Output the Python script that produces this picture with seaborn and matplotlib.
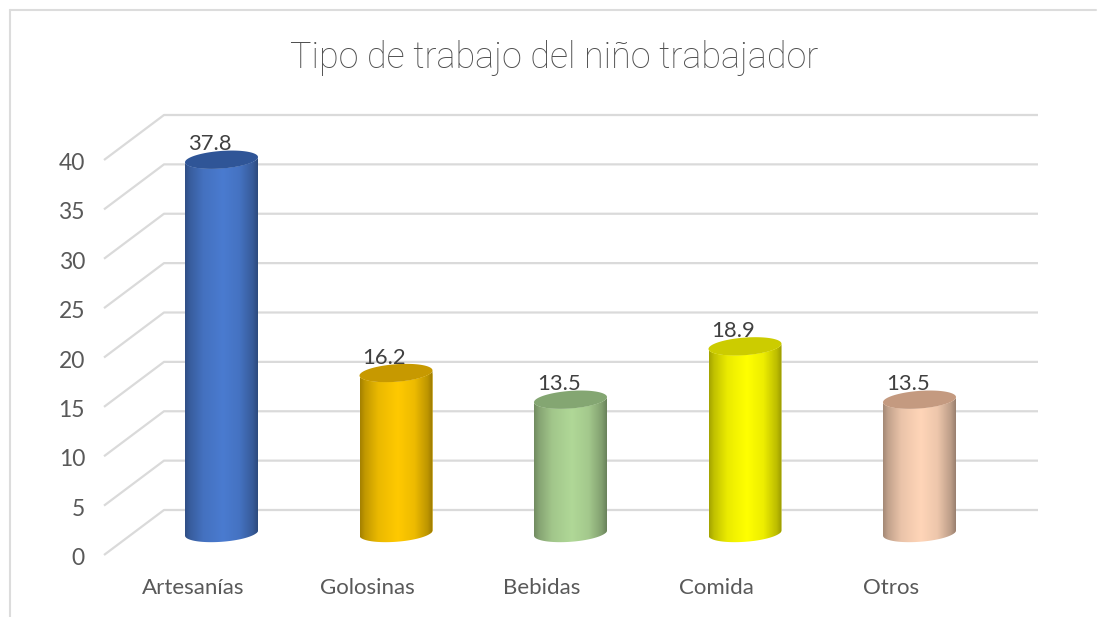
import numpy as np
import matplotlib
matplotlib.use("Agg")
import matplotlib.pyplot as plt
import seaborn as sns
from matplotlib.lines import Line2D
from matplotlib.path import Path
from matplotlib.patches import PathPatch
from matplotlib.transforms import ScaledTranslation
from matplotlib.colors import to_rgb

categories = ["Artesanías", "Golosinas", "Bebidas", "Comida", "Otros"]
values = [37.8, 16.2, 13.5, 18.9, 13.5]
y_ticks = [0, 5, 10, 15, 20, 25, 30, 35, 40]
body_colors = ["#4a7bd0", "#ffc900", "#b0d897", "#ffff00", "#ffd5b8"]
top_colors = ["#2f5597", "#c79900", "#84a672", "#cccc00", "#c49a80"]
title = "Tipo de trabajo del niño trabajador"

W, H, DPI = 1098, 617, 100
sns.set_theme(style="white")
plt.rcParams["font.family"] = ["Lato", "DejaVu Sans"]

fig = plt.figure(figsize=(W / DPI, H / DPI), dpi=DPI, facecolor="white")

# plane of the bars, in pixels
STEP, C0, BASE, UNIT = 174.5, 221.5, 533.0, 9.875
left = C0 - STEP / 2
ax = fig.add_axes([left / W, (H - BASE) / H, 5 * STEP / W, 40 * UNIT / H])
ax.patch.set_alpha(0)


def px_shift(dx, dy):
    return ScaledTranslation(dx / DPI, -dy / DPI, fig.dpi_scale_trans)


sns.barplot(x=categories, y=values, hue=categories, palette=body_colors,
            width=73 / STEP, legend=False, saturation=1, ax=ax, zorder=2)
ax.set_xlim(-0.5, 4.5)
ax.set_ylim(0, 40)
sns.despine(ax=ax, left=True, bottom=True)

# wall and floor grid: back plane and diagonal returning to the front plane
GRID = "#dadada"
px2x = lambda p: (p - C0) / STEP
for t in y_ticks:
    ax.plot([px2x(104), px2x(164), px2x(1038)],
            [t - 22 / UNIT, t + 23 / UNIT, t + 23 / UNIT],
            color=GRID, lw=1.6, clip_on=False, zorder=1, solid_capstyle="butt")

# cylinders
A = 36.5 / STEP
B = 8.8 / UNIT
S = 2.6 / UNIT
th = np.linspace(0, 2 * np.pi, 121)
lower = np.linspace(np.pi, 2 * np.pi, 61)   # from left end, along the front arc, to right end
upper_rev = lower[::-1]
profile_x = [0, 0.07, 0.25, 0.52, 0.75, 0.93, 1]
profile_f = [0.64, 0.76, 0.92, 1.0, 0.93, 0.74, 0.6]
u = np.linspace(0, 1, 200)
shade = np.interp(u, profile_x, profile_f)

for i, (bar, v, bc, tc) in enumerate(zip(ax.patches, values, body_colors, top_colors)):
    cx = bar.get_x() + bar.get_width() / 2
    ell = lambda t, yc: (cx + A * np.cos(t), yc + B * np.sin(t) + S * np.cos(t))
    xb, yb = ell(lower, 0)
    xt, yt = ell(upper_rev, v)
    verts = np.r_[np.c_[xb, yb], np.c_[xt, yt], [[xb[0], yb[0]]]]
    body = Path(verts)
    bar.set_clip_box(fig.bbox)
    bar.set_clip_path(body, ax.transData)
    grad = np.outer(shade, to_rgb(bc))[None, :, :]
    im = ax.imshow(grad, extent=[cx - A, cx + A, -2, v + 2], aspect="auto",
                   zorder=3, interpolation="bilinear")
    im.set_clip_box(fig.bbox)
    im.set_clip_path(body, ax.transData)
    xe, ye = ell(th, v)
    ax.add_patch(PathPatch(Path(np.c_[xe, ye]), facecolor=tc, edgecolor="none",
                           zorder=4, clip_on=False))
    ax.annotate(f"{v:.1f}", (cx, v), xytext=(-11.5 * 72 / DPI, 15.5 * 72 / DPI),
                textcoords="offset points", ha="center", va="center",
                fontsize=15.8, color="#404040", zorder=5, annotation_clip=False)

ax.set_xlim(-0.5, 4.5)
ax.set_ylim(0, 40)

# axes text sits on the front plane
ax.set_yticks(y_ticks)
ax.set_yticklabels([str(t) for t in y_ticks])
ax.set_xticks(range(len(categories)))
ax.set_xticklabels(categories)
ax.tick_params(axis="y", length=0, pad=(left - 85) * 72 / DPI, labelsize=16.5, labelcolor="#595959")
ax.tick_params(axis="x", length=0, pad=45 * 72 / DPI, labelsize=16, labelcolor="#595959")
for lab in ax.get_yticklabels():
    lab.set_transform(lab.get_transform() + px_shift(0, 23.5))
for lab in ax.get_xticklabels():
    lab.set_transform(lab.get_transform() + px_shift(-28.5, 0))

fig.text(554.5 / W, 1 - 57.5 / H, title, ha="center", va="center",
         fontsize=25.8, color="#4f4f4f", family="Roboto", fontweight="light")

# chart frame
for xs, ys in [([9.5, 9.5], [H, 9.5]), ([9.5, 1096], [9.5, 9.5])]:
    fig.add_artist(Line2D([x / W for x in xs], [1 - y / H for y in ys],
                          color="#dcdcdc", lw=1.5))

fig.savefig("out.png", dpi=DPI, facecolor="white")
